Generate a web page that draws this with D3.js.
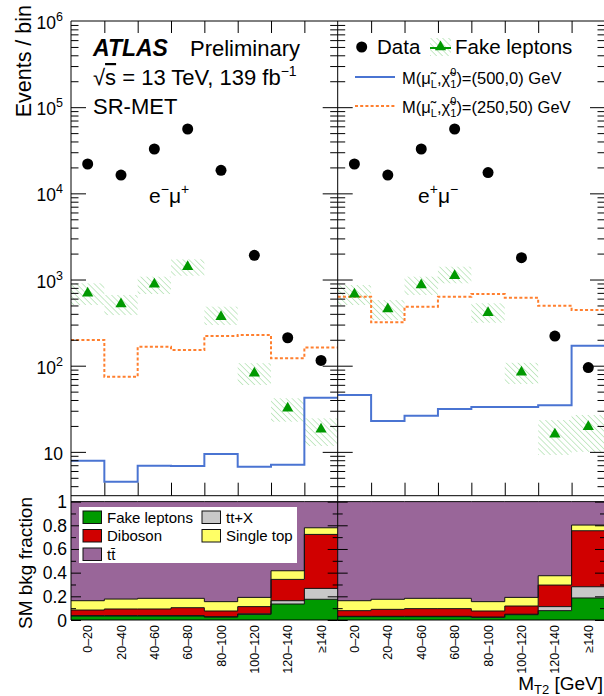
<!DOCTYPE html>
<html><head><meta charset="utf-8">
<script src="https://cdn.jsdelivr.net/npm/d3@7"></script>
<style>
body{margin:0;background:#fff}
svg{display:block}
text{font-family:"Liberation Sans",Arial,Helvetica,sans-serif;fill:#000}
</style>
</head><body>
<svg id="chart" width="604" height="696"></svg>
<script>
// M_T2 bins
const bins = ["0–20","20–40","40–60","60–80","80–100","100–120","120–140","≥140"];

// e−μ+ channel: events / bin
const dataEmMp   = [21900,16300,32700,55800,18500,1910,211,115];
const fakeEmMp   = [692,520,880,1408,370,81.5,32,18.3];
const fakeEmMpHi = [904,661,1079,1717,484,107,41.9,24.5];
const fakeEmMpLo = [506,387,679,1107,297,59.7,22.4,11.7];
const sig500EmMp = [7.89,4.5,6.9,6.85,9.44,6.73,7.1,42.5];
const sig250EmMp = [199,74.5,166,152,221,227,122,163];

// e+μ− channel: events / bin
const dataEpMm   = [21900,16300,32700,55800,17400,1790,221,95];
const fakeEpMm   = [673,455,863,1107,412,83.8,16,19.6];
const fakeEpMmHi = [863,578,1079,1408,530,108,23.4,26.8];
const fakeEpMmLo = [506,339,661,904,315,61.3,9.2,10.0];
const sig500EpMm = [45.7,22.8,26.3,31.4,33.2,33.2,34.7,170.6];
const sig250EpMm = [632,319,484,632,679,615,497,443];

// SM background fractions (stacked bottom to top)
const fracFakeEmMp    = [0.034,0.034,0.034,0.034,0.025,0.048,0.135,0.175];
const fracTtxEmMp     = [0.003,0.003,0.003,0.003,0.003,0.004,0.028,0.092];
const fracDibosonEmMp = [0.047,0.056,0.056,0.067,0.048,0.061,0.180,0.456];
const fracSingleEmMp  = [0.079,0.084,0.090,0.079,0.079,0.078,0.073,0.056];
const fracTtbarEmMp   = [0.837,0.823,0.817,0.817,0.845,0.809,0.584,0.221];

const fracFakeEpMm    = [0.028,0.028,0.028,0.028,0.022,0.045,0.079,0.186];
const fracTtxEpMm     = [0.003,0.003,0.003,0.003,0.003,0.004,0.034,0.095];
const fracDibosonEpMm = [0.048,0.059,0.065,0.065,0.051,0.069,0.182,0.473];
const fracSingleEpMm  = [0.084,0.085,0.087,0.087,0.079,0.073,0.079,0.048];
const fracTtbarEpMm   = [0.837,0.825,0.817,0.817,0.845,0.809,0.626,0.198];

const yMajor = [10,100,1e3,1e4,1e5,1e6];
const yMajorExp = ["","2","3","4","5","6"];
const fracTicks = [0,0.2,0.4,0.6,0.8,1];
const fracTickLabels = ["0","0.2","0.4","0.6","0.8","1"];

const colors = {fake:"#009a00", ttx:"#c8c8c8", diboson:"#d00000", single:"#ffff66", ttbar:"#996699"};
const stackKeys = ["fake","ttx","diboson","single","ttbar"];
const blue = "#4a74d2", orange = "#ff7f2e";

const svg = d3.select("#chart");
const X0 = 71, XM = 337.7, X1 = 605;
const UT = 21, UB = 495.7, LT = 495.7, LB = 620;

const y = d3.scaleLog().domain([3.1, 1e6]).range([UB, UT]);
const yf = d3.scaleLinear().domain([0, 1.05]).range([LB, LT]);

// hatch pattern for the fake-lepton uncertainty
const defs = svg.append("defs");
const pat = defs.append("pattern").attr("id","hatch").attr("patternUnits","userSpaceOnUse")
  .attr("width",4.2).attr("height",4.2).attr("patternTransform","rotate(-45)");
pat.append("line").attr("x1",0).attr("y1",0).attr("x2",0).attr("y2",4.2)
  .attr("stroke","#7fcf7f").attr("stroke-width",1.1).attr("opacity",0.8);

const panels = [
  {x: d3.scaleLinear().domain([0,bins.length]).range([X0,XM]), label:["e","−","μ","+"], lx:149,
   data:dataEmMp, fake:fakeEmMp, hi:fakeEmMpHi, lo:fakeEmMpLo, s500:sig500EmMp, s250:sig250EmMp,
   frac:{fake:fracFakeEmMp, ttx:fracTtxEmMp, diboson:fracDibosonEmMp, single:fracSingleEmMp, ttbar:fracTtbarEmMp}},
  {x: d3.scaleLinear().domain([0,bins.length]).range([XM,X1]), label:["e","+","μ","−"], lx:418,
   data:dataEpMm, fake:fakeEpMm, hi:fakeEpMmHi, lo:fakeEpMmLo, s500:sig500EpMm, s250:sig250EpMm,
   frac:{fake:fracFakeEpMm, ttx:fracTtxEpMm, diboson:fracDibosonEpMm, single:fracSingleEpMm, ttbar:fracTtbarEpMm}}
];

const stepPts = vals => vals.map((v,i)=>({i,v})).concat([{i:vals.length, v:vals[vals.length-1]}]);

panels.forEach((p,pi) => {
  const x = p.x;
  const clipId = "clipU"+pi;
  defs.append("clipPath").attr("id",clipId).append("rect")
    .attr("x",x.range()[0]).attr("y",UT).attr("width",x.range()[1]-x.range()[0]).attr("height",UB-UT);
  const g = svg.append("g").attr("clip-path",`url(#${clipId})`);

  // fake-lepton uncertainty boxes
  g.selectAll("rect.unc").data(p.fake).join("rect").attr("class","unc")
    .attr("x",(d,i)=>x(i)).attr("width",(d,i)=>x(i+1)-x(i))
    .attr("y",(d,i)=>y(p.hi[i])).attr("height",(d,i)=>y(p.lo[i])-y(p.hi[i]))
    .attr("fill","url(#hatch)");

  // signal histograms
  const line = d3.line().x(d=>x(d.i)).y(d=>y(d.v)).curve(d3.curveStepAfter);
  g.append("path").attr("d",line(stepPts(p.s250))).attr("fill","none")
    .attr("stroke",orange).attr("stroke-width",2).attr("stroke-dasharray","3,2.2");
  g.append("path").attr("d",line(stepPts(p.s500))).attr("fill","none")
    .attr("stroke",blue).attr("stroke-width",2);

  // fake leptons
  g.selectAll("path.tri").data(p.fake).join("path").attr("class","tri")
    .attr("d",d3.symbol(d3.symbolTriangle,55))
    .attr("transform",(d,i)=>`translate(${x(i+0.5)},${y(d)})`)
    .attr("fill","#009900");

  // data
  g.selectAll("circle.dat").data(p.data).join("circle").attr("class","dat")
    .attr("cx",(d,i)=>x(i+0.5)).attr("cy",d=>y(d)).attr("r",5.5).attr("fill","#000");

  // lower panel: stacked background fractions
  const rows = bins.map((b,i)=>{ const r={i}; stackKeys.forEach(k=>r[k]=p.frac[k][i]); return r; });
  const series = d3.stack().keys(stackKeys)(rows);
  const area = d3.area().x(d=>x(d.i)).y0(d=>yf(d.y0)).y1(d=>yf(d.y1)).curve(d3.curveStepAfter);
  const edge = d3.line().x(d=>x(d.i)).y(d=>yf(d.y1)).curve(d3.curveStepAfter);
  series.forEach(s => {
    const pts = s.map((d,i)=>({i, y0:d[0], y1:d[1]}));
    pts.push({i:pts.length, y0:pts[pts.length-1].y0, y1:pts[pts.length-1].y1});
    svg.append("path").attr("d",area(pts)).attr("fill",colors[s.key]);
  });
  series.forEach(s => {
    const pts = s.map((d,i)=>({i, y1:d[1]}));
    pts.push({i:pts.length, y1:pts[pts.length-1].y1});
    svg.append("path").attr("d",edge(pts)).attr("fill","none").attr("stroke","#111").attr("stroke-width",1);
  });

  // x ticks on the upper panel (top edge pointing down, bottom edge pointing up)
  const edges = d3.range(1, bins.length);
  svg.append("g").attr("transform",`translate(0,${UT})`)
    .call(d3.axisTop(x).tickValues(edges).tickSize(-12).tickFormat(""))
    .call(a=>a.select(".domain").remove());
  svg.append("g").attr("transform",`translate(0,${UB})`)
    .call(d3.axisBottom(x).tickValues(edges).tickSize(-13).tickFormat(""))
    .call(a=>a.select(".domain").remove());

  // rotated bin labels
  svg.append("g").selectAll("text").data(bins).join("text")
    .attr("transform",(d,i)=>`translate(${x(i+0.5)},625) rotate(-90)`)
    .attr("text-anchor","end").attr("dy","0.36em").attr("font-size",12.5).attr("fill","#000")
    .text(d=>d);

  // channel label
  const lt = svg.append("text").attr("x",p.lx).attr("y",203).attr("font-size",21);
  lt.append("tspan").text(p.label[0]);
  lt.append("tspan").attr("dy",-9).attr("font-size",14).text(p.label[1]);
  lt.append("tspan").attr("dy",9).text(p.label[2]);
  lt.append("tspan").attr("dy",-9).attr("font-size",14).text(p.label[3]);
});

// y ticks for each vertical edge
const minorLog = [];
[1,10,100,1e3,1e4,1e5].forEach(dec => d3.range(2,10).forEach(m => { const v=m*dec; if (v>3.1 && v<1e6) minorLog.push(v); }));
const minorFrac = d3.range(0.1,1.05,0.2);
function vTicks(xpos, dir) {
  const ax = dir>0 ? d3.axisLeft : d3.axisRight;
  const mk = (scale, vals, len) => svg.append("g").attr("transform",`translate(${xpos},0)`)
    .call(ax(scale).tickValues(vals).tickSize(-len).tickFormat(""))
    .call(a=>a.select(".domain").remove());
  mk(y, yMajor.filter(v=>v<1e6), 15);
  mk(y, minorLog, 7.5);
  mk(yf, fracTicks, 10);
  mk(yf, minorFrac, 5);
}
vTicks(X0, 1); vTicks(XM, -1); vTicks(XM, 1); vTicks(X1, -1);

// frames
const fr = svg.append("g").attr("fill","none").attr("stroke","#000").attr("stroke-width",1);
fr.append("line").attr("x1",X0).attr("x2",X1).attr("y1",UT).attr("y2",UT);
fr.append("line").attr("x1",X0).attr("x2",X1).attr("y1",UB).attr("y2",UB);
fr.append("line").attr("x1",X0).attr("x2",X1).attr("y1",LB).attr("y2",LB);
fr.append("line").attr("x1",X0).attr("x2",X0).attr("y1",UT).attr("y2",LB);
fr.append("line").attr("x1",XM).attr("x2",XM).attr("y1",UT).attr("y2",LB);
fr.append("line").attr("x1",X1).attr("x2",X1).attr("y1",UT).attr("y2",LB);

// y tick labels, upper panel
yMajor.forEach((v,k) => {
  const t = svg.append("text").attr("x",63).attr("y",y(v)+8).attr("text-anchor","end").attr("font-size",17.5);
  t.append("tspan").text("10");
  if (yMajorExp[k]) t.append("tspan").attr("dy",-8).attr("font-size",12.5).text(yMajorExp[k]);
});
// y tick labels, lower panel
fracTicks.forEach((v,k) => {
  svg.append("text").attr("x",67).attr("y",yf(v)+6.5).attr("text-anchor","end").attr("font-size",17.5).text(fracTickLabels[k]);
});

// axis titles
svg.append("text").attr("transform","translate(31,5) rotate(-90)").attr("text-anchor","end")
  .attr("font-size",21.5).text("Events / bin");
svg.append("text").attr("transform","translate(32,497) rotate(-90)").attr("text-anchor","end")
  .attr("font-size",19).text("SM bkg fraction");
const xt = svg.append("text").attr("x",603).attr("y",690).attr("text-anchor","end").attr("font-size",19);
xt.append("tspan").text("M");
xt.append("tspan").attr("dy",4).attr("font-size",13).text("T2");
xt.append("tspan").attr("dy",-4).text(" [GeV]");

// ATLAS label block
const at = svg.append("text").attr("x",93).attr("y",56).attr("font-size",22);
at.append("tspan").attr("font-weight","bold").attr("font-style","italic").attr("font-size",23).text("ATLAS");
at.append("tspan").attr("x",190).text("Preliminary");
const en = svg.append("text").attr("x",93).attr("y",85).attr("font-size",22);
en.append("tspan").text("√");
en.append("tspan").style("text-decoration","overline").text("s");
en.append("tspan").text(" = 13 TeV, 139 fb");
en.append("tspan").attr("dy",-9).attr("font-size",14).text("−1");
svg.append("text").attr("x",93).attr("y",114).attr("font-size",22).text("SR-MET");

// upper legend
svg.append("circle").attr("cx",361.7).attr("cy",47).attr("r",5.5).attr("fill","#000");
svg.append("text").attr("x",377).attr("y",54).attr("font-size",20.5).text("Data");
svg.append("rect").attr("x",430).attr("y",38).attr("width",21).attr("height",18).attr("fill","url(#hatch)");
svg.append("line").attr("x1",430).attr("x2",451).attr("y1",48).attr("y2",48).attr("stroke","#009900").attr("stroke-width",2);
svg.append("path").attr("d",d3.symbol(d3.symbolTriangle,55)).attr("transform","translate(440.5,47)").attr("fill","#009900");
svg.append("text").attr("x",455).attr("y",54).attr("font-size",20.5).text("Fake leptons");

function sigLegend(yl, col, dash, masses) {
  svg.append("line").attr("x1",355).attr("x2",395).attr("y1",yl).attr("y2",yl)
    .attr("stroke",col).attr("stroke-width",2).attr("stroke-dasharray",dash);
  const t = svg.append("text").attr("x",402).attr("y",yl+7).attr("font-size",16.5);
  t.append("tspan").text("M(μ\u0303");
  t.append("tspan").attr("dy",4).attr("font-size",11).text("L");
  t.append("tspan").attr("dy",-4).text(",χ\u0303");
  t.append("tspan").attr("dy",4).attr("font-size",11).text("1");
  t.append("tspan").attr("dx",-6).attr("dy",-12).attr("font-size",11).text("0");
  t.append("tspan").attr("dy",8).text(`)=(${masses}) GeV`);
}
sigLegend(77, blue, null, "500,0");
sigLegend(106, orange, "3,2.2", "250,50");

// lower legend
svg.append("rect").attr("x",79).attr("y",507).attr("width",218).attr("height",56).attr("fill","#fff");
const lowLeg = [
  {k:"fake", name:"Fake leptons", x:83, y:511},
  {k:"diboson", name:"Diboson", x:83, y:529.5},
  {k:"ttbar", name:"tt\u0304", x:83, y:548},
  {k:"ttx", name:"tt+X", x:202, y:511},
  {k:"single", name:"Single top", x:202, y:529.5}
];
lowLeg.forEach(e => {
  svg.append("rect").attr("x",e.x).attr("y",e.y).attr("width",18.5).attr("height",12.5)
    .attr("fill",colors[e.k]).attr("stroke","#111").attr("stroke-width",1);
  svg.append("text").attr("x",e.x+24).attr("y",e.y+11.5).attr("font-size",15).text(e.name);
});
</script>
</body></html>
